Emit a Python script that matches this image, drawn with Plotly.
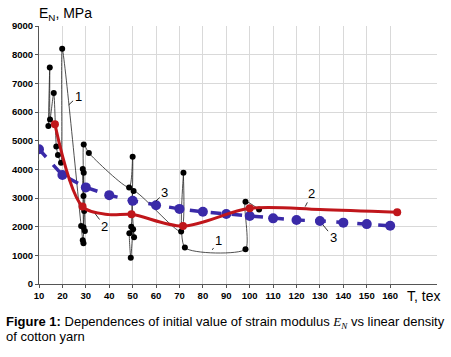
import plotly.graph_objects as go

# Series 1: experimental points (black)
s1_x = [14.0, 14.6, 14.7, 16.3, 17.4, 18.1, 19.4, 19.9, 28.0, 28.7, 29.0, 28.7, 29.1, 29.0, 29.3, 29.0, 29.6, 29.1, 31.3,
        48.5, 50.0, 49.4, 48.6, 49.2, 50.2, 50.6, 50.4, 70.7, 71.7, 72.3, 98.2, 98.2, 104.0]
s1_y = [5510, 7550, 5740, 6660, 4800, 4500, 4230, 8210, 2020, 1530, 1420, 4010, 3880, 3070, 2550, 1980, 1850, 4870, 4570,
        3370, 4440, 2000, 1770, 920, 1910, 1630, 3240, 1830, 3880, 1270, 1210, 2870, 2600]

# Series 2: smoothed curve (red)
s2_x = [16.8, 28.6, 40.0, 49.5, 71.5, 100.0, 130.0, 163.0]
s2_y = [5570, 2700, 2420, 2430, 2020, 2640, 2600, 2500]
s2_marker_x = [16.8, 28.6, 49.5, 71.5, 100.0, 163.0]
s2_marker_y = [5570, 2700, 2430, 2020, 2640, 2500]

# Series 3: model (blue dashed)
s3_x = [10, 20, 30, 40, 50, 60, 70, 80, 90, 100, 110, 120, 130, 140, 150, 160]
s3_y = [4700, 3800, 3370, 3100, 2900, 2750, 2620, 2520, 2440, 2370, 2290, 2230, 2200, 2140, 2090, 2030]

x_ticks = [10, 20, 30, 40, 50, 60, 70, 80, 90, 100, 110, 120, 130, 140, 150, 160]
y_ticks = [0, 1000, 2000, 3000, 4000, 5000, 6000, 7000, 8000, 9000]

fig = go.Figure()
fig.add_trace(go.Scatter(x=s1_x, y=s1_y, mode="lines+markers",
                         line=dict(color="#222222", width=0.8, shape="spline", smoothing=0.6),
                         marker=dict(color="black", size=6)))
fig.add_trace(go.Scatter(x=s3_x, y=s3_y, mode="lines+markers",
                         line=dict(color="#3a2aa8", width=3.5, dash="dash"),
                         marker=dict(color="#3a2aa8", size=10)))
fig.add_trace(go.Scatter(x=s2_x, y=s2_y, mode="lines",
                         line=dict(color="#c0161b", width=3, shape="spline", smoothing=0.9)))
fig.add_trace(go.Scatter(x=s2_marker_x, y=s2_marker_y, mode="markers",
                         marker=dict(color="#c0161b", size=8)))

ann = []
def leader(text, tx, ty, px, py):
    ann.append(dict(x=px, y=py, ax=tx, ay=ty, xref="x", yref="y", axref="x", ayref="y",
                    text=text, showarrow=True, arrowhead=0, arrowwidth=0.8, arrowcolor="black",
                    font=dict(size=13, color="black", family="Arial"), standoff=0, startstandoff=0))
leader("1", 26.7, 6550, 22.7, 6250)
leader("1", 86.7, 1520, 84.0, 1190)
leader("2", 38.0, 2020, 34.0, 2450)
leader("2", 126.6, 3160, 123.7, 2700)
leader("3", 63.7, 3180, 59.9, 2890)
leader("3", 135.6, 1630, 131.3, 2060)

ann.append(dict(x=-0.005, y=1.045, xref="paper", yref="paper", xanchor="left", yanchor="middle",
                text="E<sub>N</sub>, MPa", showarrow=False, font=dict(size=14, color="black", family="Arial")))
ann.append(dict(x=1.0125, y=-0.045, xref="paper", yref="paper", xanchor="right", yanchor="middle",
                text="T, tex", showarrow=False, font=dict(size=14, color="black", family="Arial")))
ann.append(dict(x=-0.087, y=-0.151, xref="paper", yref="paper", xanchor="left", yanchor="middle", align="left",
                text="<b>Figure 1:</b> Dependences of initial value of strain modulus "
                     "<i><span style='font-family:Liberation Serif'>E<sub>N</sub></span></i> vs linear density",
                showarrow=False, font=dict(size=13, color="black", family="Arial")))
ann.append(dict(x=-0.087, y=-0.205, xref="paper", yref="paper", xanchor="left", yanchor="middle", align="left",
                text="of cotton yarn",
                showarrow=False, font=dict(size=13, color="black", family="Arial")))

fig.update_layout(
    width=451, height=357, margin=dict(l=37, r=14, t=26, b=73),
    paper_bgcolor="white", plot_bgcolor="white", showlegend=False,
    annotations=ann,
    font=dict(family="Arial", color="black"),
)
fig.update_xaxes(range=[10, 180], tickvals=x_ticks, ticktext=[f"<b>{v}</b>" for v in x_ticks],
                 showgrid=True, gridcolor="#d9d9d9", gridwidth=1,
                 showline=True, linecolor="#555555", linewidth=1,
                 ticks="outside", ticklen=3, tickcolor="#555555",
                 tickfont=dict(size=9.5, family="Arial", color="black"), zeroline=False)
fig.update_yaxes(range=[0, 9000], tickvals=y_ticks, ticktext=[f"<b>{v}</b>" for v in y_ticks],
                 showgrid=True, gridcolor="#d9d9d9", gridwidth=1,
                 showline=True, linecolor="#555555", linewidth=1,
                 ticks="outside", ticklen=3, tickcolor="#555555",
                 tickfont=dict(size=9.5, family="Arial", color="black"), zeroline=False)

fig.write_html("out.html", config={"displayModeBar": False},
               post_script="document.body.style.margin='0';document.body.style.padding='0';")
